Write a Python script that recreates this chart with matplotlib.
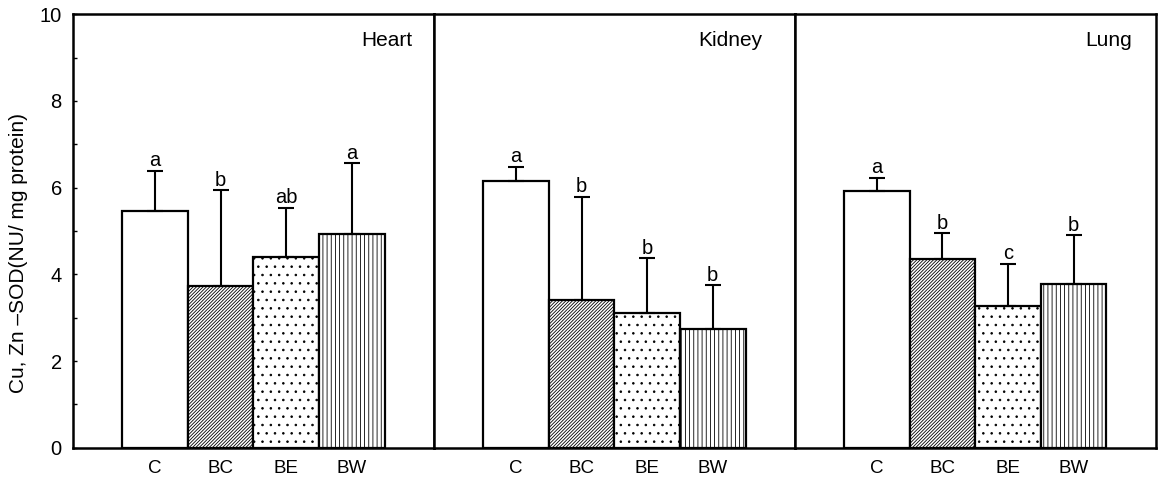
import numpy as np
import matplotlib.pyplot as plt

plt.rcParams['font.family'] = ['Liberation Sans', 'DejaVu Sans']
plt.rcParams['hatch.linewidth'] = 0.6

groups = ['C', 'BC', 'BE', 'BW']
organs = ['Heart', 'Kidney', 'Lung']

heart_mean = [5.47, 3.74, 4.40, 4.93]
heart_sd = [0.92, 2.20, 1.13, 1.63]
heart_sig = ['a', 'b', 'ab', 'a']

kidney_mean = [6.15, 3.41, 3.11, 2.74]
kidney_sd = [0.33, 2.38, 1.26, 1.01]
kidney_sig = ['a', 'b', 'b', 'b']

lung_mean = [5.92, 4.35, 3.28, 3.78]
lung_sd = [0.31, 0.60, 0.97, 1.12]
lung_sig = ['a', 'b', 'c', 'b']

hatches = ['', '/' * 10, '..', '||||']

fig, axes = plt.subplots(1, 3, figsize=(11.58, 4.9), dpi=100, sharey=True)
fig.subplots_adjust(left=0.063, right=0.998, top=0.971, bottom=0.086, wspace=0)

data = [(heart_mean, heart_sd, heart_sig),
        (kidney_mean, kidney_sd, kidney_sig),
        (lung_mean, lung_sd, lung_sig)]
label_x = [0.94, 0.91, 0.935]

x = np.arange(len(groups))
for i, (ax, organ, (means, sds, sig)) in enumerate(zip(axes, organs, data)):
    ax.bar(x, means, width=1.0, color='white', edgecolor='black',
           linewidth=1.6, hatch=hatches, zorder=2)
    ax.errorbar(x, means, yerr=[np.zeros(len(sds)), sds], fmt='none',
                ecolor='black', elinewidth=1.5, capsize=5.5, capthick=1.5, zorder=3)
    for xi, m, s, t in zip(x, means, sds, sig):
        ax.annotate(t, (xi, m + s), xytext=(0, 0.5), textcoords='offset points',
                    ha='center', va='bottom', fontsize=14.5)
    ax.text(label_x[i], 0.94, organ, transform=ax.transAxes, ha='right', va='center',
            fontsize=15)
    ax.set_xlim(-1.25, 4.25)
    ax.set_xticks(x)
    ax.set_xticklabels(groups, fontsize=13.5)
    ax.tick_params(axis='x', length=0, pad=9)
    for sp in ax.spines.values():
        sp.set_linewidth(1.8)
    if i == 0:
        ax.set_ylim(0, 10)
        ax.set_yticks([0, 2, 4, 6, 8, 10])
        ax.set_yticks([1, 3, 5, 7, 9], minor=True)
        ax.tick_params(axis='y', direction='in', length=3, width=1, labelsize=14.5, pad=8)
        ax.tick_params(axis='y', which='minor', direction='in', length=3, width=1)
        ax.set_ylabel('Cu, Zn \u2013SOD(NU/ mg protein)', fontsize=15)
        ax.yaxis.set_label_coords(-0.125, 0.45)
    else:
        ax.tick_params(axis='y', which='both', length=0)

fig.savefig('out.png', dpi=100)
